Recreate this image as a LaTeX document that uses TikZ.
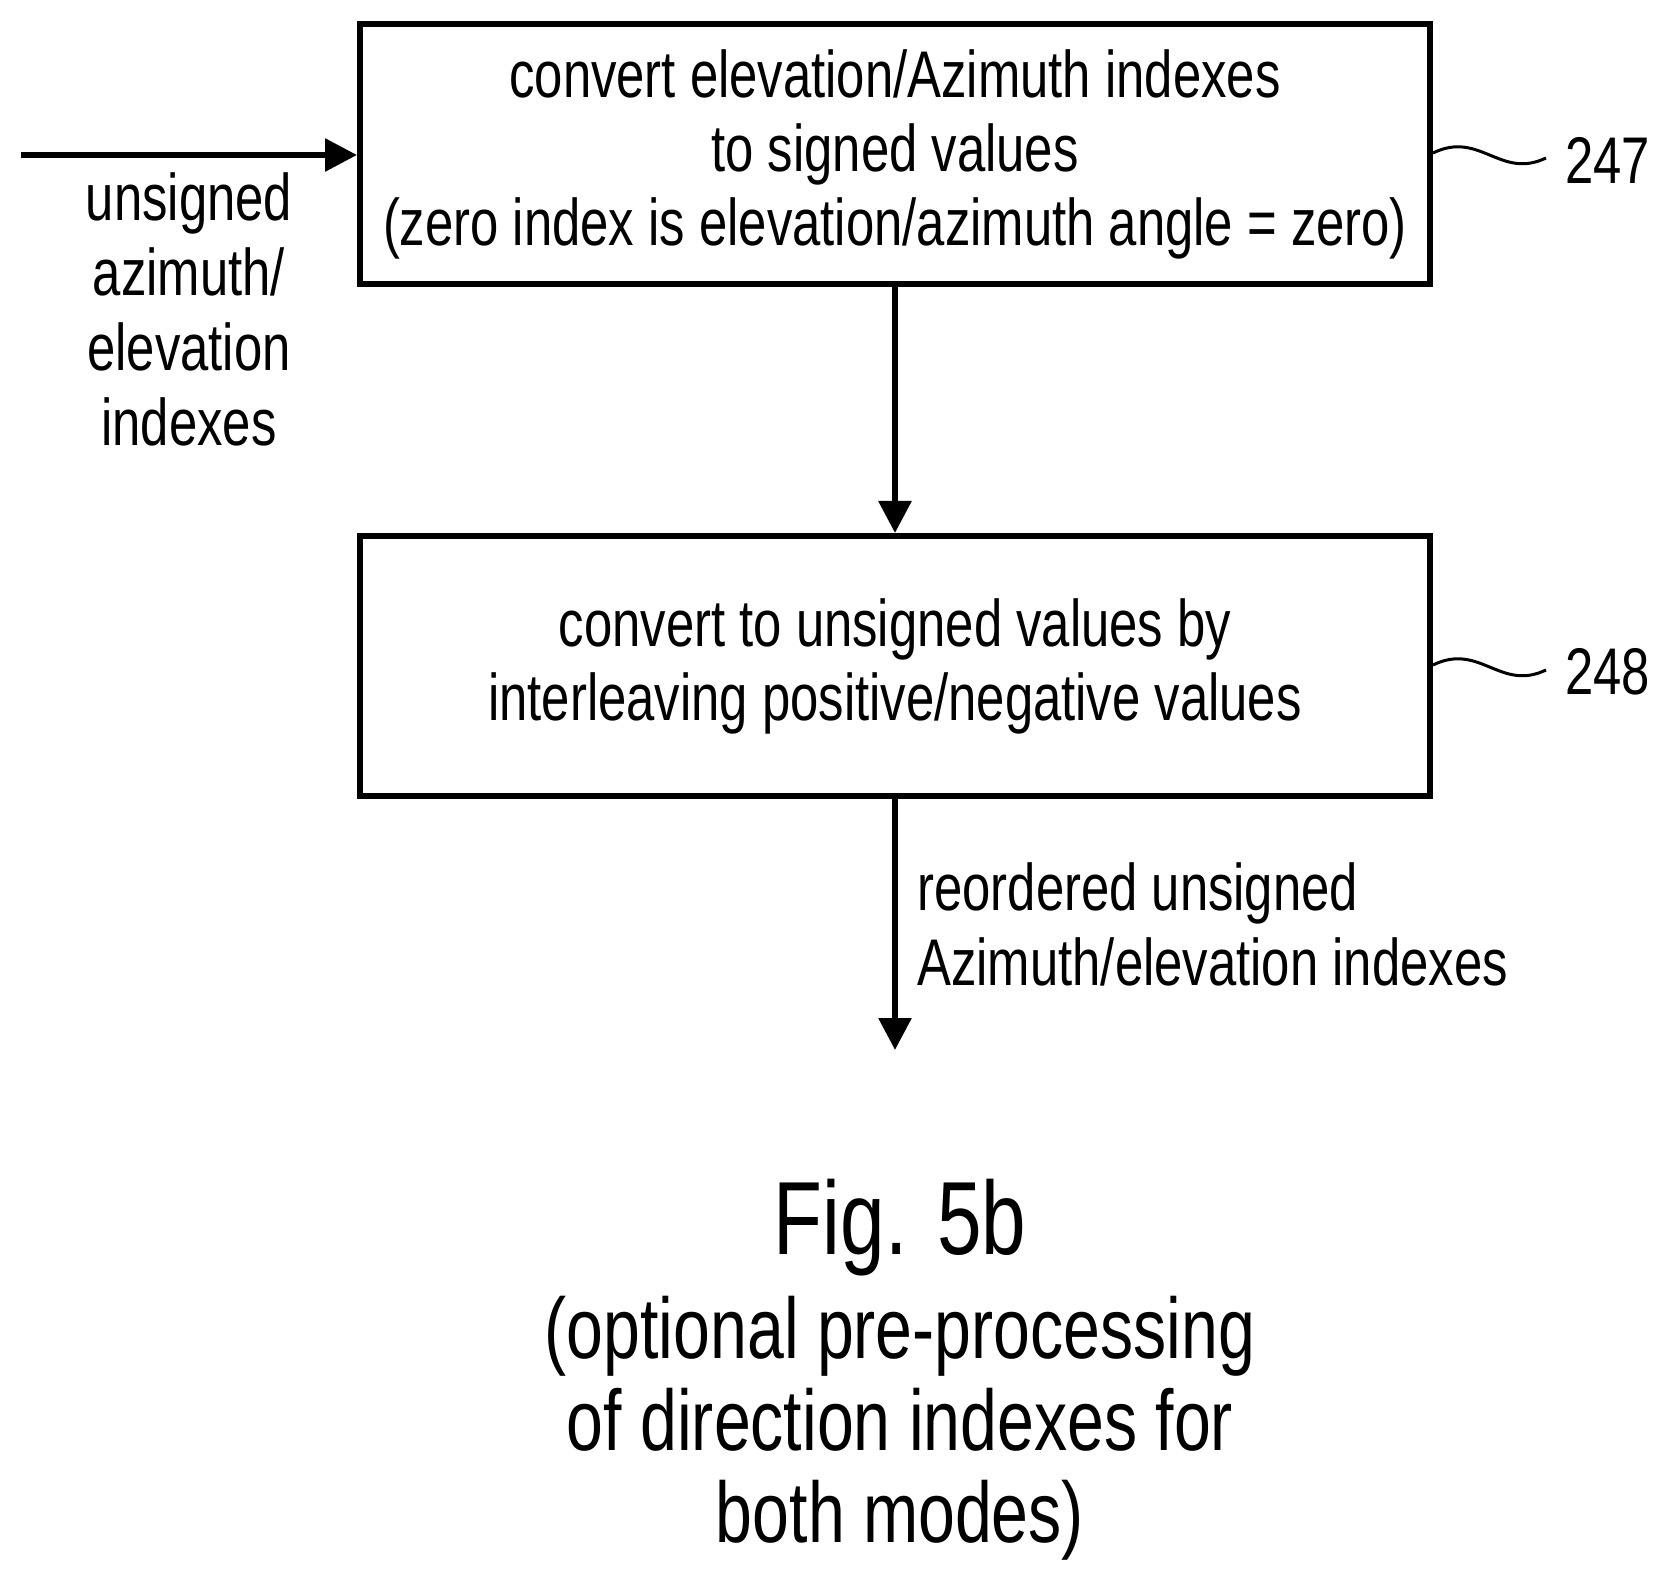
\documentclass[tikz,border=0pt]{standalone}
\usepackage{fontspec}
\setmainfont{Liberation Sans}[FakeStretch=0.77]
\usetikzlibrary{arrows.meta}
\begin{document}
\begin{tikzpicture}[x=0.5pt,y=-0.5pt,
  box/.style={draw,line width=3pt,minimum width=535pt,minimum height=130pt,align=center,inner sep=0pt,font=\fontsize{33}{37}\selectfont},
  lab/.style={font=\fontsize{33}{37.5}\selectfont,align=center,inner sep=0pt},
  arr/.style={line width=3pt,-{Triangle[length=16pt,width=16pt]}},
  sq/.style={line width=1.5pt}]
\useasboundingbox (0,0) rectangle (1662,1578);
\node[box] (b1) at (895,154) {convert elevation/Azimuth indexes\\to signed values\\(zero index is elevation/azimuth angle = zero)};
\node[box] (b2) at (895,666) {convert to unsigned values by\\interleaving positive/negative values};
\coordinate (in) at (21,155);
\coordinate (out) at (895,1050);
\draw[arr] (in) -- (in -| b1.west);
\draw[arr] (b1.south) -- (b2.north);
\draw[arr] (b2.south) -- (out);
\node[lab] (l1) at (189,309) {unsigned\\azimuth/\\elevation\\indexes};
\node[lab,align=left,anchor=west] (l2) at (917,924) {reordered unsigned\\Azimuth/elevation indexes};
\node[lab,anchor=west] (n247) at (1565,160) {247};
\node[lab,anchor=west] (n248) at (1565,672) {248};
\draw[sq] (b1.east |- 0,153) .. controls (1480,130) and (1500,180) .. (1546,158);
\draw[sq] (b2.east |- 0,665) .. controls (1480,642) and (1500,692) .. (1546,670);
\node[inner sep=0pt,font=\fontsize{52}{52}\selectfont] (fig) at (900,1228) {Fig. 5b};
\node[inner sep=0pt,align=center,font=\fontsize{43}{46}\selectfont] (cap) at (900,1428) {(optional pre-processing\\of direction indexes for\\both modes)};
\end{tikzpicture}
\end{document}
